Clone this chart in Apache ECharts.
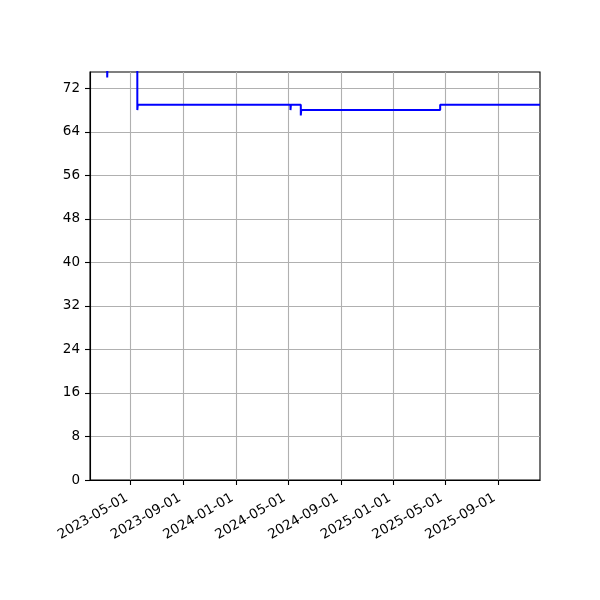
<!DOCTYPE html>
<html>
<head>
<meta charset="utf-8">
<script src="https://cdn.jsdelivr.net/npm/echarts@6/dist/echarts.min.js"></script>
<style>html,body{margin:0;padding:0;background:#fff}#c{width:600px;height:600px}</style>
</head>
<body>
<div id="c"></div>
<script>
// Data (values above 75 are clipped in the reference)
const dates = ['2023-01-27','2023-03-08','2023-03-10','2023-05-17','2023-05-18','2024-05-07','2024-05-08','2024-05-31','2024-06-01','2025-04-20','2025-12-08'];
const values = [80, 74, 80, 68, 69, 68, 69, 67, 68, 69, 69];
const xTickLabels = ['2023-05-01','2023-09-01','2024-01-01','2024-05-01','2024-09-01','2025-01-01','2025-05-01','2025-09-01'];
const yTicks = [0, 8, 16, 24, 32, 40, 48, 56, 64, 72];
const xMin = '2023-01-27', xMax = '2025-12-08';
const yMin = 0, yMax = 75;

function toTime(s){ const p = s.split('-').map(Number); return Date.UTC(p[0], p[1]-1, p[2]); }
function pad(n){ return (n<10?'0':'')+n; }
function fmt(v){ const d = new Date(v); return d.getUTCFullYear()+'-'+pad(d.getUTCMonth()+1)+'-'+pad(d.getUTCDate()); }

const xTicks = xTickLabels.map(toTime);
const seriesData = dates.map((d,i)=>[toTime(d), values[i]]);

const chart = echarts.init(document.getElementById('c'), null, {renderer:'canvas'});
const font = 'DejaVu Sans';
chart.setOption({
  animation: false,
  grid: {left: 90, right: 60, top: 72, bottom: 120, show: true, borderColor: '#000', borderWidth: 1.1, backgroundColor: 'transparent'},
  xAxis: {
    type: 'value', min: toTime(xMin), max: toTime(xMax), scale: true,
    axisLine: {show: true, lineStyle: {color: '#000', width: 1.1}},
    axisTick: {show: true, customValues: xTicks, length: 5, lineStyle: {color: '#000', width: 1.1}},
    axisLabel: {customValues: xTicks, formatter: v => fmt(v), rotate: 30, margin: 15, padding: [0, 4, 0, 0], color: '#000', fontFamily: font, fontSize: 13.5},
    splitLine: {show: true, lineStyle: {color: '#b0b0b0', width: 1.1}}
  },
  yAxis: {
    type: 'value', min: yMin, max: yMax, interval: 8,
    axisLine: {show: true, lineStyle: {color: '#000', width: 1.1}},
    axisTick: {show: true, customValues: yTicks, length: 5, lineStyle: {color: '#000', width: 1.1}},
    axisLabel: {customValues: yTicks, margin: 10, color: '#000', fontFamily: font, fontSize: 13.5},
    splitLine: {show: true, lineStyle: {color: '#b0b0b0', width: 1.1}}
  },
  series: [{
    type: 'line', data: seriesData, step: 'end', showSymbol: false, clip: true,
    lineStyle: {color: '#0000ff', width: 2}
  }]
});
</script>
</body>
</html>
